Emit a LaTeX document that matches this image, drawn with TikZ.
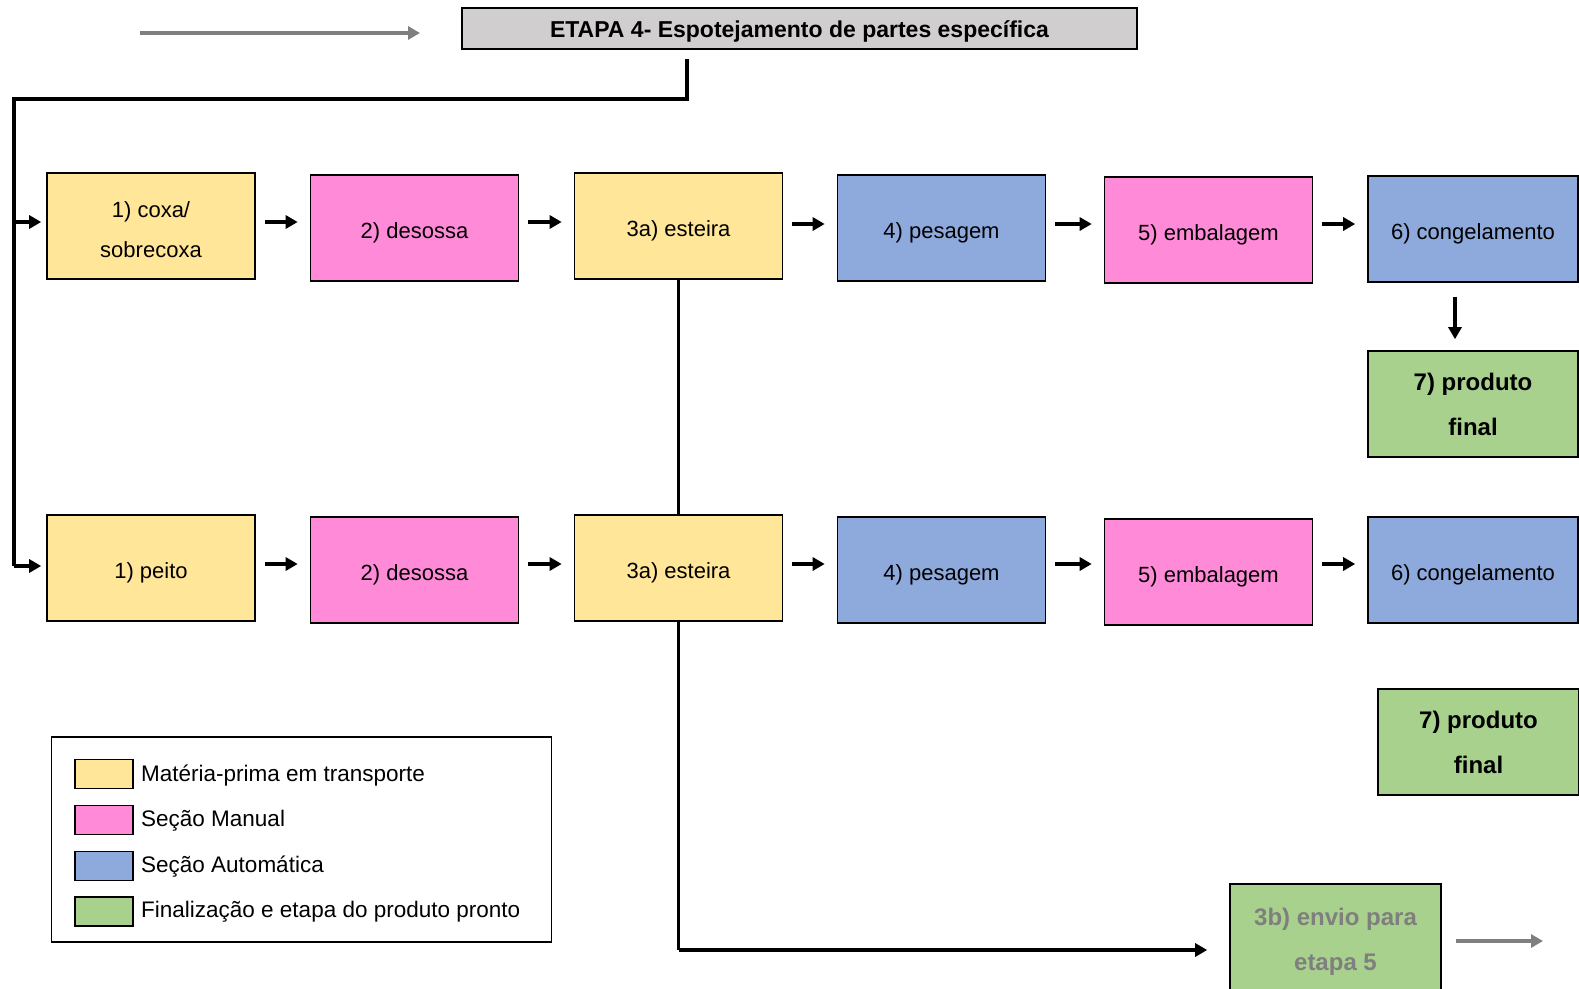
\documentclass[tikz,border=0pt]{standalone}
\usepackage{fontspec}
\setmainfont{Liberation Sans}
\usetikzlibrary{arrows.meta}
\definecolor{cyellow}{HTML}{FFE699}
\definecolor{cpink}{HTML}{FF8AD8}
\definecolor{cblue}{HTML}{8EA9DB}
\definecolor{cgreen}{HTML}{A9D18E}
\definecolor{cheader}{HTML}{D0CECE}
\definecolor{cgrayarrow}{HTML}{7F7F7F}
\tikzset{
  box/.style={draw=black, line width=1.6pt, minimum width=208pt, minimum height=106pt,
    inner sep=0pt, align=center, font=\fontsize{22}{40}\selectfont},
  oneline/.style={text height=26pt, text depth=5pt},
  finalbox/.style={box, font=\bfseries\fontsize{24}{45}\selectfont},
  swatch/.style={draw=black, line width=1.6pt, minimum width=58pt, minimum height=29pt, inner sep=0pt},
  legtext/.style={anchor=west, inner sep=0pt, font=\fontsize{22.5}{26}\selectfont},
  arr/.style={line width=3.5pt, -{Triangle[length=12pt,width=13pt]}},
  grayarr/.style={arr, draw=cgrayarrow, color=cgrayarrow},
  conn/.style={line width=3.5pt}
}
\begin{document}
\begin{tikzpicture}[x=1pt,y=-1pt]
\useasboundingbox (0,0) rectangle (1579,988);

% header
\node[draw=black, line width=1.6pt, fill=cheader, minimum width=675pt, minimum height=41pt,
  inner sep=0pt, text height=20pt, text depth=3pt, font=\bfseries\fontsize{23}{26}\selectfont] (hdr) at (799.5,28.5)
  {ETAPA 4- Espotejamento de partes específica};
\coordinate (inL) at (140,33);
\coordinate (inR) at (420,33);
\draw[grayarr] (inL) -- (inR);

% row 1
\node[box, fill=cyellow, text height=64pt] (a1) at (151,226) {1) coxa/\\sobrecoxa};
\node[box, oneline, fill=cpink]   (a2) at (414.5,228) {2) desossa};
\node[box, oneline, fill=cyellow] (a3) at (678.5,226) {3a) esteira};
\node[box, oneline, fill=cblue]   (a4) at (941.5,228) {4) pesagem};
\node[box, oneline, fill=cpink]   (a5) at (1208.5,230) {5) embalagem};
\node[box, oneline, fill=cblue, minimum width=210pt] (a6) at (1473,229) {6) congelamento};
\node[finalbox, fill=cgreen, minimum width=210pt] (a7) at (1473,404) {7) produto\\final};

% row 2
\node[box, oneline, fill=cyellow] (b1) at (151,568) {1) peito};
\node[box, oneline, fill=cpink]   (b2) at (414.5,570) {2) desossa};
\node[box, oneline, fill=cyellow] (b3) at (678.5,568) {3a) esteira};
\node[box, oneline, fill=cblue]   (b4) at (941.5,570) {4) pesagem};
\node[box, oneline, fill=cpink]   (b5) at (1208.5,572) {5) embalagem};
\node[box, oneline, fill=cblue, minimum width=210pt] (b6) at (1473,570) {6) congelamento};
\node[finalbox, fill=cgreen, minimum width=201pt] (b7) at (1478.5,742) {7) produto\\final};

% send to stage 5
\node[finalbox, fill=cgreen, text=cgrayarrow, text height=72.5pt, minimum width=211pt] (e3b) at (1335.5,937) {3b) envio para\\etapa 5};
\coordinate (outL) at (1456,941);
\coordinate (outR) at (1543,941);
\draw[grayarr] (outL) -- (outR);

% feed from header to both rows
\coordinate (hs) at (687,59);
\coordinate (hturn) at (687,99);
\coordinate (lcorner) at (14,99);
\coordinate (lbottom) at (14,566);
\coordinate (lmid) at (14,222);
\draw[conn] (hs) -- (hturn) -- (lcorner) -- (lbottom);
\draw[arr, shorten >=5pt] (lmid) -- (lmid -| a1.west);
\draw[arr, shorten >=5pt] (lbottom) -- (lbottom -| b1.west);

% row arrows
\foreach \p/\q/\yy in {a1/a2/222, a2/a3/222, a3/a4/224, a4/a5/224, a5/a6/224,
                        b1/b2/564, b2/b3/564, b3/b4/564, b4/b5/564, b5/b6/564} {
  \draw[arr, shorten <=9pt, shorten >=12pt] (\p.east |- 0,\yy) -- (\q.west |- 0,\yy);
}

% freezing to final product
\draw[arr, shorten <=14pt, shorten >=11pt] ([xshift=-18pt]a6.south) -- ([xshift=-18pt]a7.north);

% conveyor links
\coordinate (turn3b) at (b3.south |- 0,950);
\draw[conn] (a3.south) -- (b3.north);
\draw[conn] (b3.south) -- (turn3b);
\draw[arr, shorten >=22pt] (turn3b) -- (turn3b -| e3b.west);

% legend
\node[draw=black, line width=1.6pt, minimum width=500pt, minimum height=205pt, inner sep=0pt] (leg) at (301.5,839.5) {};
\node[swatch, fill=cyellow] (s1) at (104,774) {};
\node[swatch, fill=cpink]   (s2) at (104,820) {};
\node[swatch, fill=cblue]   (s3) at (104,866) {};
\node[swatch, fill=cgreen]  (s4) at (104,911.5) {};
\node[legtext] (t1) at (141,776) {Matéria-prima em transporte};
\node[legtext] (t2) at (141,821) {Seção Manual};
\node[legtext] (t3) at (141,867) {Seção Automática};
\node[legtext] (t4) at (141,912) {Finalização e etapa do produto pronto};
\end{tikzpicture}
\end{document}
